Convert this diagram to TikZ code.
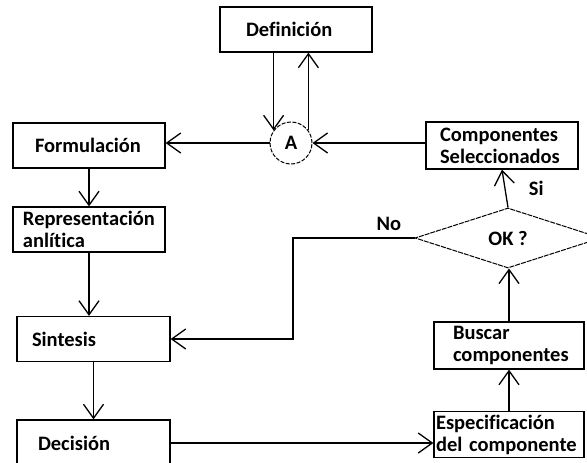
\documentclass[tikz,border=0pt]{standalone}
\usepackage{fontspec}
\setmainfont{Carlito}[Ligatures=NoCommon]
\usepackage{tikz}
\usetikzlibrary{arrows.meta, shapes.geometric, positioning}
\tikzset{
->, % every connector gets a head
>={Straight Barb[length=14pt,width=20pt]}, % open V heads
box/.style={draw, minimum width=152pt, minimum height=45pt, inner xsep=0pt, align=left, text width=#1}, % text width sets the left indent
junction/.style={circle, draw, line width=1pt, dash pattern=on 4pt off 1.5pt, minimum size=42pt, inner sep=0pt},
decide/.style={diamond, draw, line width=1pt, dash pattern=on 5pt off 1pt, aspect=3, inner sep=0pt, minimum width=186pt, minimum height=60pt},
}

\begin{document}
\begin{tikzpicture}[x=1pt, y=-1pt, line width=1.3pt, font=\bfseries\fontsize{20.5}{22}\selectfont]
        \useasboundingbox (0,0) rectangle (587,463);
        \clip (0,0) rectangle (587,463);

        \node[box=100pt] (def) at (296,29.5) {Definición};
        \node[junction] (A) at (291,143) {A};
        \node[box=108pt] (form) at (89,145.5) {Formulación};
        \node[box=132pt] (repr) at (89,229.5) {Representación\\anlítica};
        \node[box=123pt, minimum width=153pt] (sint) at (93.5,339) {Sintesis};
        \node[box=111pt, minimum width=153pt, minimum height=46pt] (dec) at (93.5,443) {Decisión};
        \node[box=146pt, minimum width=150pt] (spec) at (509,434.5) {Especificación\\del componente};
        \node[box=112pt, minimum width=150pt, minimum height=47pt] (busc) at (509,345.5) {Buscar\\componentes};
        \node[box=124pt, minimum height=47pt] (comp) at (502,145.5) {Componentes\\Seleccionados};
        \node[decide] (dia) at (508,238) {OK ?};
        \coordinate (turn) at (293,238);

        \draw (def.south -| A.144) -- (A.144);
        \draw (A.36) -- (A.36 |- def.south);
        \draw (A.west) -- (A.west -| form.east);
        \draw (comp.west |- A.east) -- (A.east);
        \draw (form.south) -- (repr.north);
        \draw (repr.south) -- (repr.south |- sint.north);
        \draw (sint.south) -- (dec.north);
        \draw (dec.east) -- (dec.east -| spec.west);
        \draw (spec.north) -- (busc.south);
        \draw (busc.north) -- (busc.north |- dia.south);
        \draw (dia.north) -- node[right=20pt] (si) {Si} (comp.south);
        \draw (dia.west) -- node[pos=0.21, above=3pt] (no) {No} (turn) |- (sint.east);
\end{tikzpicture}
\end{document}
